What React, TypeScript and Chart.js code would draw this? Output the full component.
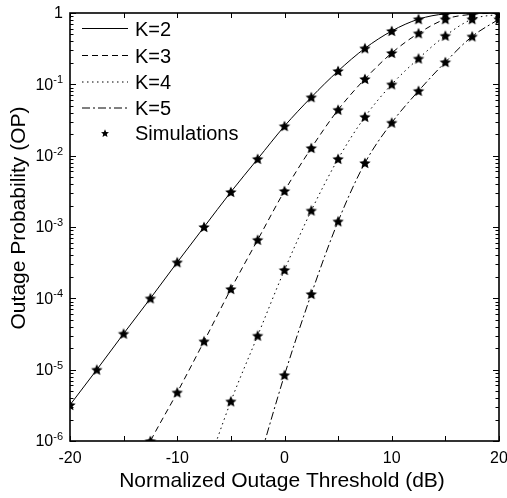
import React, { useEffect, useRef } from "react";
import { Chart, registerables } from "chart.js";

Chart.register(...registerables);

// ---------- data ----------
const thresholdsDb = [-20, -17.5, -15, -12.5, -10, -7.5, -5, -2.5, 0, 2.5, 5, 7.5, 10, 12.5, 15, 17.5, 20];

// Analytical curves (values below 1e-6 continue past the bottom edge and are clipped)
const anaK2 = [3.2e-6, 1.0e-5, 3.2e-5, 1.0e-4, 3.2e-4, 1.0e-3, 3.1e-3, 9.0e-3, 0.026, 0.066, 0.154, 0.32, 0.56, 0.82, 0.97, 0.995, 1.0];
const anaK3 = [null, null, 1.8e-7, 1.0e-6, 4.8e-6, 2.5e-5, 1.35e-4, 6.6e-4, 3.2e-3, 0.0128, 0.044, 0.119, 0.275, 0.52, 0.82, 0.96, 0.995];
const anaK4 = [null, null, null, null, null, 3.2e-7, 3.6e-6, 3.0e-5, 2.5e-4, 1.7e-3, 9.0e-3, 0.035, 0.10, 0.23, 0.48, 0.82, 0.96];
const anaK5 = [null, null, null, null, null, null, null, 4.5e-7, 8.4e-6, 1.15e-4, 1.2e-3, 7.9e-3, 0.029, 0.081, 0.205, 0.47, 0.82];

// Simulation markers
const simK2 = [3.2e-6, 1.0e-5, 3.2e-5, 1.0e-4, 3.2e-4, 1.0e-3, 3.1e-3, 9.0e-3, 0.026, 0.066, 0.154, 0.32, 0.56, 0.82, 0.97, 0.995, 1.0];
const simK3 = [null, null, null, 1.0e-6, 4.8e-6, 2.5e-5, 1.35e-4, 6.6e-4, 3.2e-3, 0.0128, 0.044, 0.119, 0.275, 0.52, 0.82, 0.96, 0.995];
const simK4 = [null, null, null, null, null, null, 3.6e-6, 3.0e-5, 2.5e-4, 1.7e-3, 9.0e-3, 0.035, 0.10, 0.23, 0.48, 0.82, 0.96];
const simK5 = [null, null, null, null, null, null, null, null, 8.4e-6, 1.15e-4, 1.2e-3, 7.9e-3, 0.029, 0.081, 0.205, 0.47, 0.82];

const seriesLabels = ["K=2", "K=3", "K=4", "K=5"];
const simLabel = "Simulations";

const xTickValues = [-20, -15, -10, -5, 0, 5, 10, 15, 20];
const xTickLabels = ["-20", "", "-10", "", "0", "", "10", "", "20"];
const yDecadeExponents = [0, -1, -2, -3, -4, -5, -6];

const xTitle = "Normalized Outage Threshold (dB)";
const yTitle = "Outage Probability (OP)";

// ---------- styles ----------
const FONT = "'Liberation Sans', Arial, Helvetica, sans-serif";
const dashes: number[][] = [[], [6, 4], [1.5, 3.5], [8, 3, 2, 3]];

function starPath(ctx: CanvasRenderingContext2D, cx: number, cy: number, R: number, r: number) {
  ctx.beginPath();
  for (let i = 0; i < 10; i++) {
    const ang = -Math.PI / 2 + (i * Math.PI) / 5;
    const rad = i % 2 === 0 ? R : r;
    const px = cx + rad * Math.cos(ang);
    const py = cy + rad * Math.sin(ang);
    if (i === 0) ctx.moveTo(px, py);
    else ctx.lineTo(px, py);
  }
  ctx.closePath();
}

function makeStarImage(R: number) {
  const size = Math.ceil(R * 2 + 2);
  const c = document.createElement("canvas");
  c.width = size;
  c.height = size;
  const ctx = c.getContext("2d")!;
  ctx.fillStyle = "#000";
  starPath(ctx, size / 2, size / 2 + 0.5, R, R * 0.47);
  ctx.fill();
  return c;
}

function toPoints(vals: (number | null)[]) {
  const out: { x: number; y: number }[] = [];
  vals.forEach((v, i) => {
    if (v !== null) out.push({ x: thresholdsDb[i], y: v });
  });
  return out;
}

const decorPlugin = {
  id: "decor",
  afterDraw(chart: any) {
    const { ctx, chartArea: a, scales } = chart;
    const xs = scales.x;
    const ys = scales.y;
    ctx.save();
    ctx.strokeStyle = "#000";
    ctx.fillStyle = "#000";

    const line = (x1: number, y1: number, x2: number, y2: number) => {
      ctx.beginPath();
      ctx.moveTo(x1, y1);
      ctx.lineTo(x2, y2);
      ctx.stroke();
    };

    // ticks (inward, mirrored)
    ctx.lineWidth = 1;
    ctx.setLineDash([]);
    xTickValues.forEach((v) => {
      const px = Math.round(xs.getPixelForValue(v)) + 0.5;
      line(px, a.bottom, px, a.bottom - 5);
      line(px, a.top, px, a.top + 5);
    });
    for (let e = -6; e <= 0; e++) {
      for (let m = 1; m <= 9; m++) {
        const v = m * Math.pow(10, e);
        if (v > 1.0000001) break;
        const py = Math.round(ys.getPixelForValue(v)) + 0.5;
        const len = m === 1 ? 6 : 3.5;
        line(a.left, py, a.left + len, py);
        line(a.right, py, a.right - len, py);
      }
    }

    // frame
    ctx.lineWidth = 1.6;
    ctx.strokeRect(a.left, a.top, a.right - a.left, a.bottom - a.top);

    // x tick labels
    ctx.font = `16px ${FONT}`;
    ctx.textAlign = "center";
    ctx.textBaseline = "middle";
    xTickValues.forEach((v, i) => {
      if (!xTickLabels[i]) return;
      ctx.fillText(xTickLabels[i], xs.getPixelForValue(v), a.bottom + 18);
    });

    // y tick labels with superscript exponent
    const rightEdge = a.left - 7;
    yDecadeExponents.forEach((e) => {
      const py = ys.getPixelForValue(Math.pow(10, e));
      if (e === 0) {
        ctx.font = `16px ${FONT}`;
        ctx.textAlign = "right";
        ctx.textBaseline = "middle";
        ctx.fillText("1", rightEdge, py + 0.5);
        return;
      }
      const expText = `${e}`;
      ctx.font = `11px ${FONT}`;
      const w2 = ctx.measureText(expText).width;
      ctx.font = `16px ${FONT}`;
      const w1 = ctx.measureText("10").width;
      const x0 = rightEdge - w2 - w1;
      ctx.textAlign = "left";
      ctx.textBaseline = "middle";
      ctx.fillText("10", x0, py + 1);
      ctx.font = `11px ${FONT}`;
      ctx.textBaseline = "alphabetic";
      ctx.fillText(expText, x0 + w1, py - 1);
    });

    // axis titles
    ctx.font = `21px ${FONT}`;
    ctx.textAlign = "center";
    ctx.textBaseline = "middle";
    ctx.fillText(xTitle, 282, a.bottom + 40);
    ctx.save();
    ctx.translate(19, 218);
    ctx.rotate(-Math.PI / 2);
    ctx.fillText(yTitle, 0, 0);
    ctx.restore();

    // legend
    const lx1 = a.left + 12;
    const lx2 = a.left + 58;
    const tx = a.left + 65;
    const rowY = [28, 55, 81.5, 107.5];
    ctx.font = `20px ${FONT}`;
    ctx.textAlign = "left";
    ctx.textBaseline = "middle";
    seriesLabels.forEach((lab, i) => {
      ctx.lineWidth = 1;
      ctx.setLineDash(dashes[i]);
      line(lx1, rowY[i] + 0.5, lx2, rowY[i] + 0.5);
      ctx.setLineDash([]);
      ctx.fillText(lab, tx, rowY[i] + 2);
    });
    starPath(ctx, (lx1 + lx2) / 2, 133.5, 4.2, 1.9);
    ctx.fill();
    ctx.fillText(simLabel, tx, 134);

    ctx.restore();
  },
};

export default function App() {
  const canvasRef = useRef<HTMLCanvasElement | null>(null);

  useEffect(() => {
    const canvas = canvasRef.current;
    if (!canvas) return;
    const starImg = makeStarImage(6);
    const anas = [anaK2, anaK3, anaK4, anaK5];
    const sims = [simK2, simK3, simK4, simK5];

    const lineSets = anas.map((arr, i) => ({
      type: "line" as const,
      label: seriesLabels[i],
      data: toPoints(arr),
      borderColor: "#000",
      borderWidth: 1,
      borderDash: dashes[i],
      pointRadius: 0,
      fill: false,
      cubicInterpolationMode: "monotone" as const,
    }));
    const simSets = sims.map((arr) => ({
      type: "scatter" as const,
      label: simLabel,
      data: toPoints(arr),
      showLine: false,
      pointStyle: starImg,
      pointRadius: 6,
      backgroundColor: "#000",
      borderColor: "#000",
    }));

    const chart = new Chart(canvas, {
      type: "line",
      data: { datasets: [...lineSets, ...simSets] as any },
      options: {
        responsive: false,
        animation: false,
        layout: { padding: { top: 13, right: 8, left: 0, bottom: 0 } },
        plugins: { legend: { display: false }, tooltip: { enabled: false } },
        scales: {
          x: {
            type: "linear",
            min: -20,
            max: 20,
            ticks: { display: false },
            grid: { display: false },
            border: { display: false },
            afterFit: (s: any) => {
              s.height = 57;
            },
          },
          y: {
            type: "logarithmic",
            min: 1e-6,
            max: 1,
            ticks: { display: false },
            grid: { display: false },
            border: { display: false },
            afterFit: (s: any) => {
              s.width = 70;
            },
          },
        },
      },
      plugins: [decorPlugin],
    });
    return () => chart.destroy();
  }, []);

  return (
    <div style={{ position: "fixed", left: 0, top: 0, width: 507, height: 498, background: "#fff" }}>
      <canvas ref={canvasRef} width={507} height={498} style={{ display: "block" }} />
    </div>
  );
}
